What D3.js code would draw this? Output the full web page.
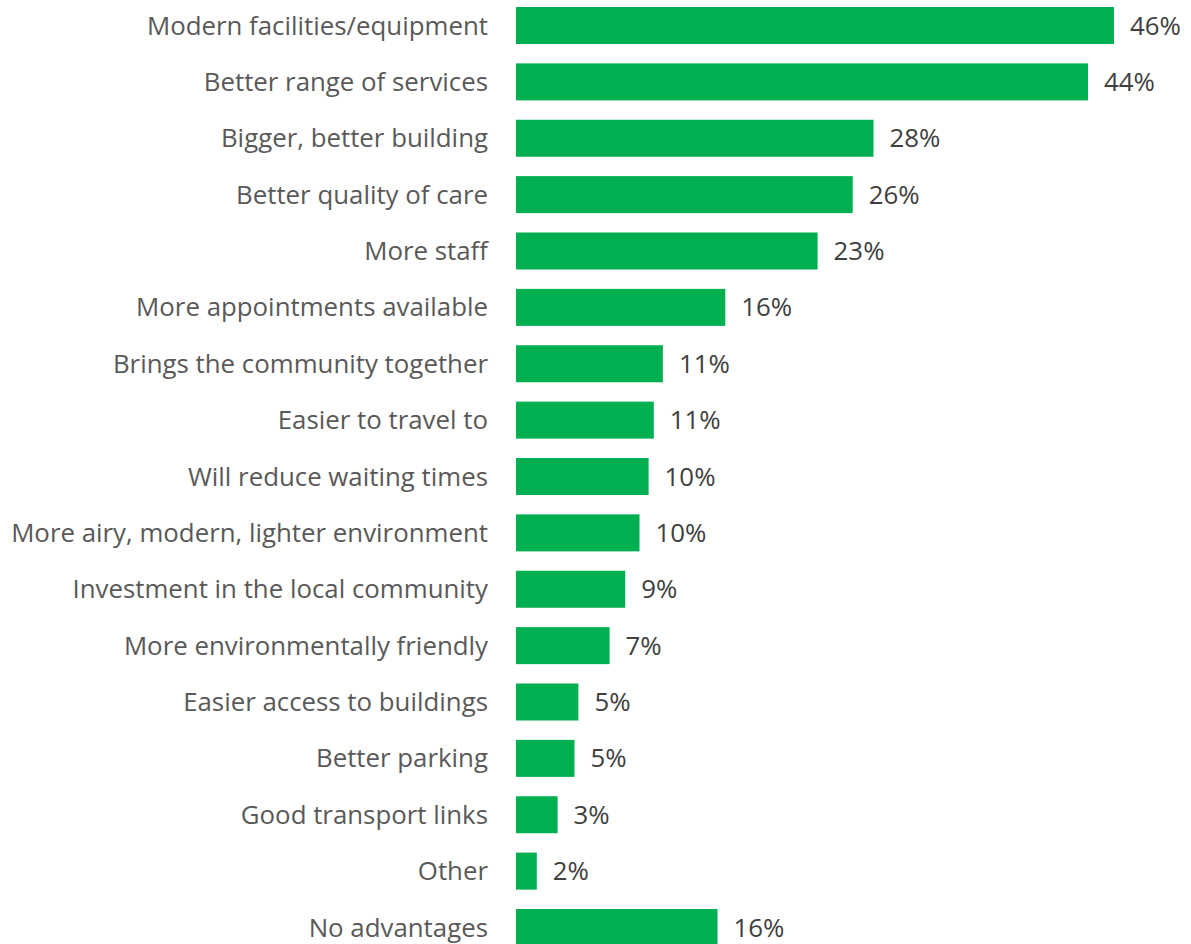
<!DOCTYPE html>
<html><head><meta charset="utf-8">
<script src="https://cdn.jsdelivr.net/npm/d3@7"></script>
<style>body{margin:0;background:#fff;}svg{display:block;}</style>
</head><body>
<svg id="chart" width="1191" height="944"></svg>
<script>
const categories = [
  "Modern facilities/equipment","Better range of services","Bigger, better building",
  "Better quality of care","More staff","More appointments available",
  "Brings the community together","Easier to travel to","Will reduce waiting times",
  "More airy, modern, lighter environment","Investment in the local community",
  "More environmentally friendly","Easier access to buildings","Better parking",
  "Good transport links","Other","No advantages"
];
const values = [46.0,44.0,27.5,25.9,23.2,16.1,11.3,10.6,10.2,9.5,8.4,7.2,4.8,4.5,3.2,1.6,15.5];
const valueLabels = ["46%","44%","28%","26%","23%","16%","11%","11%","10%","10%","9%","7%","5%","5%","3%","2%","16%"];

const svg = d3.select("#chart");
const x0 = 516, pxPer = 13.0;
const x = d3.scaleLinear().domain([0, 46]).range([x0, x0 + 46*pxPer]);
const n = categories.length, step = 56.375, bw = 37;
const p = 1 - bw/step;
const r0 = 7 - p*step;
const y = d3.scaleBand().domain(categories).range([r0, r0 + step*(n + p)]).paddingInner(p).paddingOuter(p);

const font = "'Open Sans', sans-serif";
const probe = svg.append("text").attr("font-family", font).attr("font-size", 20).text(categories[9]);
const w20 = probe.node().getComputedTextLength();
probe.remove();
const fs = 20 * 477 / w20;

svg.selectAll("rect.bar").data(values).join("rect")
  .attr("class","bar")
  .attr("x", x(0))
  .attr("y", (d,i) => y(categories[i]))
  .attr("width", d => x(d) - x(0))
  .attr("height", y.bandwidth())
  .attr("fill", "#00B050");

svg.selectAll("text.cat").data(categories).join("text")
  .attr("class","cat")
  .attr("x", 488)
  .attr("y", d => y(d) + y.bandwidth()/2)
  .attr("dy", "0.35em")
  .attr("text-anchor","end")
  .attr("font-family", font)
  .attr("font-size", fs)
  .attr("fill", "#595959")
  .text(d => d);

svg.selectAll("text.val").data(values).join("text")
  .attr("class","val")
  .attr("x", d => x(d) + 16)
  .attr("y", (d,i) => y(categories[i]) + y.bandwidth()/2)
  .attr("dy", "0.35em")
  .attr("font-family", font)
  .attr("font-size", fs)
  .attr("fill", "#404040")
  .text((d,i) => valueLabels[i]);
</script>
</body></html>
